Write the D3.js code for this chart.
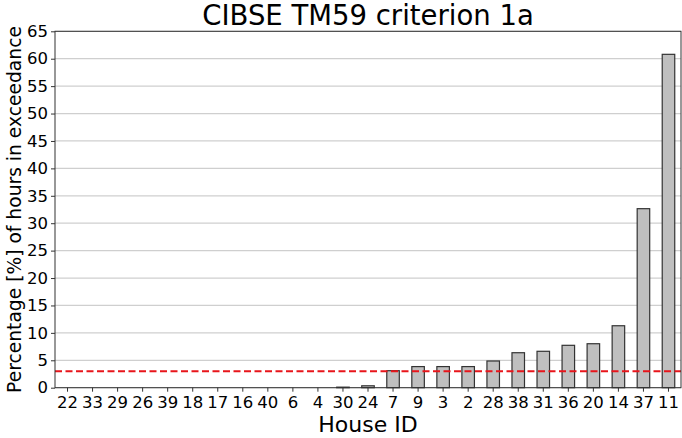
<!DOCTYPE html>
<html><head><meta charset="utf-8">
<script src="https://cdn.jsdelivr.net/npm/d3@7"></script>
<style>body{margin:0;background:#fff}svg{display:block}text{font-family:"DejaVu Sans",sans-serif;fill:#000}</style>
</head><body><svg id="c" width="682" height="438"></svg>
<script>
const houses = ["22","33","29","26","39","18","17","16","40","6","4","30","24","7","9","3","2","28","38","31","36","20","14","37","11"];
const values = [0,0,0,0,0,0,0,0,0,0,0,0.1,0.35,3.1,3.85,3.85,3.85,4.87,6.38,6.64,7.73,8.02,11.3,32.65,60.8];
const yTicks = [0,5,10,15,20,25,30,35,40,45,50,55,60,65];
const threshold = 3;

const svg = d3.select("#c");
const m = {l:55, r:681, t:31.3, b:387.7};
const x = d3.scaleBand().domain(houses).range([m.l, m.r]).paddingInner(0.5).paddingOuter(0.25);
const y = d3.scaleLinear().domain([0,65]).range([m.b, m.t]);

// gridlines
svg.append("g").selectAll("line").data(yTicks).join("line")
  .attr("x1", m.l).attr("x2", m.r).attr("y1", d=>y(d)).attr("y2", d=>y(d))
  .attr("stroke", "#cfcfcf").attr("stroke-width", 1.2);

// bars
svg.append("g").selectAll("rect").data(houses).join("rect")
  .attr("x", d=>x(d)).attr("width", x.bandwidth())
  .attr("y", (d,i)=>y(values[i])).attr("height", (d,i)=>y(0)-y(values[i]))
  .attr("fill", "#bfbfbf").attr("stroke", "#333").attr("stroke-width", 1.2);

// threshold
svg.append("line").attr("x1", m.l).attr("x2", m.r).attr("y1", y(threshold)).attr("y2", y(threshold))
  .attr("stroke", "#e8151b").attr("stroke-width", 2).attr("stroke-dasharray", "7,3.5");

// frame
svg.append("rect").attr("x", m.l).attr("y", m.t).attr("width", m.r-m.l).attr("height", m.b-m.t)
  .attr("fill","none").attr("stroke","#333").attr("stroke-width",1);

// axes
const xa = svg.append("g").attr("transform", `translate(0,${m.b})`)
  .call(d3.axisBottom(x).tickSize(4).tickPadding(5));
xa.select(".domain").remove();
xa.selectAll("text").style("font-size","16.5px").style("font-family","DejaVu Sans");
xa.selectAll("line").attr("stroke","#333");

const ya = svg.append("g").attr("transform", `translate(${m.l},0)`)
  .call(d3.axisLeft(y).tickValues(yTicks).tickSize(4).tickPadding(3));
ya.select(".domain").remove();
ya.selectAll("text").style("font-size","16.5px").style("font-family","DejaVu Sans");
ya.selectAll("line").attr("stroke","#333");

svg.append("text").attr("x", (m.l+m.r)/2).attr("y", 25).attr("text-anchor","middle")
  .style("font-size","27.5px").text("CIBSE TM59 criterion 1a");
svg.append("text").attr("x", (m.l+m.r)/2).attr("y", 432).attr("text-anchor","middle")
  .style("font-size","22px").text("House ID");
svg.append("text").attr("transform", `translate(21,${(m.t+m.b)/2}) rotate(-90)`).attr("text-anchor","middle")
  .style("font-size","18.7px").text("Percentage [%] of hours in exceedance");
</script></body></html>
